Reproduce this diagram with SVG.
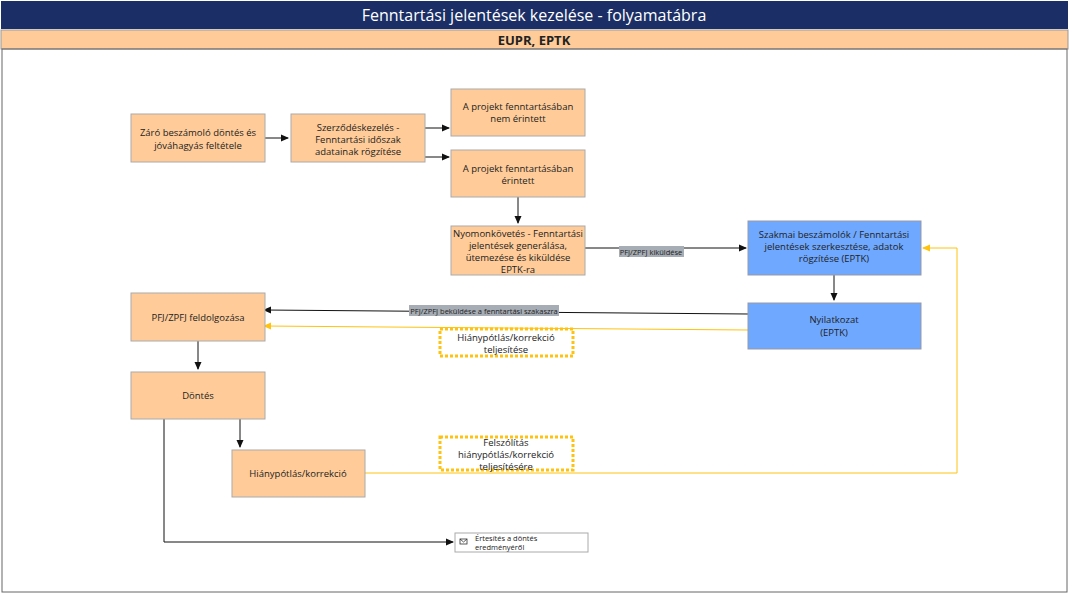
<svg xmlns="http://www.w3.org/2000/svg" width="1069" height="594" viewBox="0 0 1069 594">
<style>
text{font-family:"Open Sans","Noto Sans",sans-serif;fill:#222}
.n{font-size:9.5px;text-anchor:middle}
.o{fill:#ffcc99;stroke:#aaa;stroke-width:1}
.b{fill:#6fa8ff;stroke:#99a;stroke-width:1}
.k{fill:none;stroke:#111;stroke-width:1}
.y{fill:none;stroke:#ffc20e;stroke-width:1}
.d{fill:#fff;stroke:#ffc20e;stroke-width:3;stroke-dasharray:3 2}
.lb{fill:#a6adb4}
.s{font-size:7.5px;text-anchor:middle}
</style>
<defs>
<marker id="ak" markerWidth="8" markerHeight="8" refX="7" refY="4" orient="auto" markerUnits="userSpaceOnUse"><path d="M0,0.5 L8,4 L0,7.5 Z" fill="#111"/></marker>
<marker id="ay" markerWidth="8" markerHeight="8" refX="7" refY="4" orient="auto" markerUnits="userSpaceOnUse"><path d="M0,0.5 L8,4 L0,7.5 Z" fill="#ffc20e"/></marker>
</defs>
<rect width="1069" height="594" fill="#fff"/>
<rect x="1" y="1" width="1067" height="28" fill="#1b2f66"/>
<text x="534" y="21" font-size="16" text-anchor="middle" style="fill:#fff">Fenntartási jelentések kezelése - folyamatábra</text>
<rect x="1" y="30" width="1067" height="19" fill="#ffcc99" stroke="#999"/>
<text x="534" y="45" font-size="13" font-weight="bold" text-anchor="middle">EUPR, EPTK</text>
<rect x="2" y="49" width="1065" height="543" fill="none" stroke="#666"/>
<g id="connectors">
<path class="k" d="M265 138H288" marker-end="url(#ak)"/>
<path class="k" d="M425 128H449" marker-end="url(#ak)"/>
<path class="k" d="M425 157H449" marker-end="url(#ak)"/>
<path class="k" d="M518 197V223" marker-end="url(#ak)"/>
<path class="k" d="M585 248H746" marker-end="url(#ak)"/>
<rect class="lb" x="619" y="246" width="65" height="11"/><text class="s" x="651" y="254.5">PFJ/ZPFJ kiküldése</text>
<path class="k" d="M834 275V300" marker-end="url(#ak)"/>
<path class="k" d="M748 314L264 310" marker-end="url(#ak)"/>
<rect class="lb" x="409" y="305" width="150" height="11"/><text class="s" x="484" y="313.5">PFJ/ZPFJ beküldése a fenntartási szakaszra</text>
<path class="y" d="M748 330L264 326" marker-end="url(#ay)"/>
<path class="k" d="M198 341V369" marker-end="url(#ak)"/>
<path class="k" d="M240 419V447" marker-end="url(#ak)"/>
<path class="y" d="M365 473H957V248H923" marker-end="url(#ay)"/>
<path class="k" d="M164 419V542H453" marker-end="url(#ak)"/>
<rect class="d" x="440" y="329" width="133" height="27"/>
<text class="n" x="506" y="341">Hiánypótlás/korrekció</text><text class="n" x="506" y="353">teljesítése</text>
<rect class="d" x="440" y="437" width="133" height="33"/>
<text class="n" x="506" y="446">Felszólítás</text><text class="n" x="506" y="458">hiánypótlás/korrekció</text><text class="n" x="506" y="470">teljesítésére</text>
</g>
<g id="n1"><rect class="o" x="131" y="114" width="134" height="48"/><text class="n" x="198" y="136">Záró beszámoló döntés és</text><text class="n" x="198" y="149">jóváhagyás feltétele</text></g>
<g id="n2"><rect class="o" x="291" y="114" width="134" height="48"/><text class="n" x="358" y="131">Szerződéskezelés -</text><text class="n" x="358" y="143">Fenntartási időszak</text><text class="n" x="358" y="155">adatainak rögzítése</text></g>
<g id="n3"><rect class="o" x="451" y="89" width="134" height="47"/><text class="n" x="518" y="110">A projekt fenntartásában</text><text class="n" x="518" y="122">nem érintett</text></g>
<g id="n4"><rect class="o" x="451" y="150" width="134" height="47"/><text class="n" x="518" y="172">A projekt fenntartásában</text><text class="n" x="518" y="184">érintett</text></g>
<g id="n5"><rect class="o" x="451" y="226" width="134" height="49"/><text class="n" x="518" y="237">Nyomonkövetés - Fenntartási</text><text class="n" x="518" y="249">jelentések generálása,</text><text class="n" x="518" y="261">ütemezése és kiküldése</text><text class="n" x="518" y="273">EPTK-ra</text></g>
<g id="n6"><rect class="b" x="748" y="221" width="173" height="54"/><text class="n" x="834" y="238">Szakmai beszámolók / Fenntartási</text><text class="n" x="834" y="250">jelentések szerkesztése, adatok</text><text class="n" x="834" y="262">rögzítése (EPTK)</text></g>
<g id="n7"><rect class="b" x="748" y="303" width="173" height="46"/><text class="n" x="834" y="323">Nyilatkozat</text><text class="n" x="834" y="336">(EPTK)</text></g>
<g id="n8"><rect class="o" x="131" y="293" width="134" height="48"/><text class="n" x="198" y="321">PFJ/ZPFJ feldolgozása</text></g>
<g id="n9"><rect class="o" x="131" y="372" width="134" height="47"/><text class="n" x="198" y="399">Döntés</text></g>
<g id="n10"><rect class="o" x="232" y="450" width="133" height="47"/><text class="n" x="298" y="477">Hiánypótlás/korrekció</text></g>
<g id="n11"><rect x="455" y="533" width="133" height="19" fill="#fff" stroke="#aaa"/><rect x="460" y="539" width="7" height="5" fill="none" stroke="#333" stroke-width="0.8"/><path d="M460 539L463.5 542L467 539" fill="none" stroke="#333" stroke-width="0.8"/><text x="475" y="541" font-size="7.5">Értesítés a döntés</text><text x="475" y="550" font-size="7.5">eredményéről</text></g>
</svg>
